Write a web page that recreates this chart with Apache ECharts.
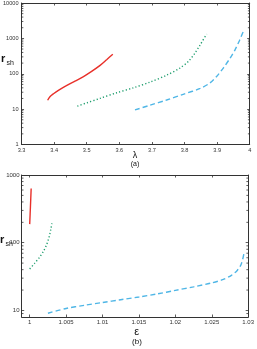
<!DOCTYPE html>
<html><head><meta charset="utf-8">
<script src="https://cdn.jsdelivr.net/npm/echarts@6/dist/echarts.min.js"></script>
<style>html,body{margin:0;padding:0;background:#fff}#c{width:257px;height:349px}</style>
</head><body><div id="c"></div>
<script>
// Panel (a): r_sh vs lambda
const lamRed = [[3.38,17.8],[3.387,22.5],[3.398,27.3],[3.413,33.8],[3.439,46.7],[3.464,61.7],[3.49,83.4],[3.515,117],[3.541,173],[3.561,250],[3.58,358]];
const lamGreen = [[3.471,12.1],[3.5,15],[3.541,20.2],[3.592,29],[3.643,40],[3.694,58],[3.745,91],[3.786,145],[3.812,224],[3.832,383],[3.848,655],[3.868,1330]];
const lamBlue = [[3.648,9.5],[3.694,12.9],[3.745,18.1],[3.796,26.2],[3.848,38.5],[3.878,55],[3.899,85],[3.919,145],[3.94,277],[3.955,475],[3.968,847],[3.98,1550]];
// Panel (b): r_sh vs epsilon
const epsRed = [[1.0000,188],[1.0001,340],[1.0002,630]];
const epsGreen = [[1.0,41],[1.0007,50],[1.0014,62],[1.0019,75],[1.0023,92],[1.00255,110],[1.00274,130],[1.0029,158],[1.00305,193]];
const epsBlue = [[1.0025,9.1],[1.005,10.7],[1.0075,11.9],[1.01,13.1],[1.0125,14.4],[1.015,15.8],[1.0175,17.5],[1.02,19.8],[1.0225,22.3],[1.025,25.5],[1.0265,28.5],[1.0277,33],[1.0285,39],[1.029,47],[1.0293,60],[1.0294,68]];
// axis ranges
const lamRange = [3.3, 4.0];
const rRangeA = [1, 10000];
const epsRange = [0.9989, 1.03];
const rRangeB = [8, 1000];
// log minor tick multipliers
const minorMult = [2,3,4,5,6,7,8,9];

function minorTicks(range){
  const out=[];
  for(let d=Math.floor(Math.log10(range[0])); d<Math.ceil(Math.log10(range[1])); d++){
    for(const m of minorMult){const v=m*Math.pow(10,d); if(v>range[0]&&v<range[1]) out.push(v);}
  }
  return out;
}

const AX='#333';
const FONT='Liberation Sans';
function xAx(gi,range,fs,pos,show){
  return {type:'value',gridIndex:gi,min:range[0],max:range[1],position:pos,
    splitNumber: gi===0?7:6,
    axisLine:{show:true,onZero:false,lineStyle:{color:AX,width:1}},
    axisTick:{show:true,inside:true,length:2.5,lineStyle:{color:AX,width:0.8}},
    axisLabel:{show:show,color:'#333',fontSize:fs,fontFamily:FONT,margin:2.5,showMinLabel:gi===0,hideOverlap:false,
      formatter:function(v){return String(+v.toFixed(4));}},
    splitLine:{show:false}};
}
function yAx(gi,range,fs,pos,show){
  return {type:'log',logBase:10,gridIndex:gi,min:range[0],max:range[1],position:pos,
    axisLine:{show:true,onZero:false,lineStyle:{color:AX,width:1}},
    axisTick:{show:true,inside:true,length:2.5,lineStyle:{color:AX,width:0.8}},
    axisLabel:{show:show,color:'#333',fontSize:fs,fontFamily:FONT,margin:gi===0?3:2.2,showMinLabel:gi===0,hideOverlap:false,
      formatter:function(v){return String(Math.round(v));}},
    splitLine:{show:false},minorTick:{show:false}};
}
function minorSeries(xi,yi,xr,yr){
  return {type:'custom',xAxisIndex:xi,yAxisIndex:yi,silent:true,z:5,clip:false,
    data:minorTicks(yr).map(v=>[xr[0],v]),
    renderItem:function(params,api){
      const v=api.value(1);
      const p=api.coord([xr[0],v]); const q=api.coord([xr[1],v]);
      return {type:'group',children:[
        {type:'line',shape:{x1:p[0],y1:p[1],x2:p[0]+1.8,y2:p[1]},style:{stroke:AX,lineWidth:0.8}},
        {type:'line',shape:{x1:q[0]-1.8,y1:q[1],x2:q[0],y2:q[1]},style:{stroke:AX,lineWidth:0.8}}
      ]};
    }};
}
function line(xi,yi,data,color,type){
  return {type:'line',xAxisIndex:xi,yAxisIndex:yi,data:data,showSymbol:false,symbol:'none',smooth:0.3,
    lineStyle:{color:color,width:1.4,type:type},z:3,animation:false};
}
const RED='#e8302a', GREEN='#1f9e6e', BLUE='#4fb6e6';
const chart=echarts.init(document.getElementById('c'),null,{renderer:'canvas'});
chart.setOption({
  animation:false,
  backgroundColor:'#fff',
  grid:[{left:21.5,top:1.5,width:228.2,height:143,containLabel:false},
        {left:21.7,top:175,width:230,height:142,containLabel:false}],
  xAxis:[xAx(0,lamRange,5.6,'bottom',true),xAx(0,lamRange,5.6,'top',false),
         xAx(1,epsRange,6,'bottom',true),xAx(1,epsRange,6,'top',false)],
  yAxis:[yAx(0,rRangeA,5.6,'left',true),yAx(0,rRangeA,5.6,'right',false),
         yAx(1,rRangeB,6,'left',true),yAx(1,rRangeB,6,'right',false)],
  series:[
    line(0,0,lamRed,RED,'solid'),
    line(0,0,lamGreen,GREEN,[1.2,2.2]),
    line(0,0,lamBlue,BLUE,[5,3]),
    line(2,2,epsRed,RED,'solid'),
    line(2,2,epsGreen,GREEN,[1.2,2.2]),
    line(2,2,epsBlue,BLUE,[5,3]),
    minorSeries(0,0,lamRange,rRangeA),
    minorSeries(2,2,epsRange,rRangeB)
  ],
  graphic:[
    {type:'text',left:1,top:53,style:{text:'r',font:'bold 11px '+FONT,fill:'#111'}},
    {type:'text',left:6.5,top:60,style:{text:'sh',font:'7px '+FONT,fill:'#111'}},
    {type:'text',left:0,top:234,style:{text:'r',font:'bold 11px '+FONT,fill:'#111'}},
    {type:'text',left:5.5,top:241,style:{text:'sh',font:'7px '+FONT,fill:'#111'}},
    {type:'text',x:135,y:156,style:{text:'λ',font:'9px '+FONT,fill:'#111',align:'center',verticalAlign:'middle'}},
    {type:'text',x:135,y:164.5,style:{text:'(a)',font:'7px '+FONT,fill:'#111',align:'center',verticalAlign:'middle'}},
    {type:'text',x:136.7,y:331.5,style:{text:'ε',font:'11px '+FONT,fill:'#111',align:'center',verticalAlign:'middle'}},
    {type:'text',x:137,y:342,style:{text:'(b)',font:'8px '+FONT,fill:'#111',align:'center',verticalAlign:'middle'}}
  ]
});
</script></body></html>
